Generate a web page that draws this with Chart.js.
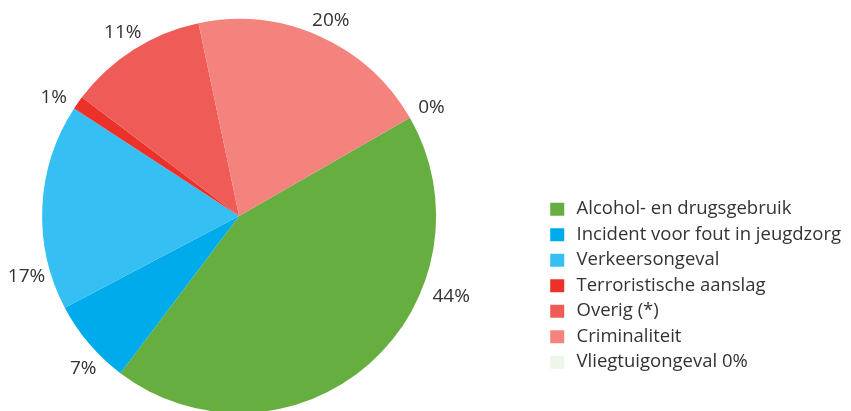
<!DOCTYPE html>
<html>
<head>
<meta charset="utf-8">
<script src="https://cdn.jsdelivr.net/npm/chart.js@4/dist/chart.umd.min.js"></script>
<style>
  html, body { margin: 0; padding: 0; background: #fff; overflow: hidden; }
  /* canvas is a bit wider than the page and shifted left, so the pie sits where it should */
  #wrap { position: absolute; left: -65px; top: 0; width: 916px; height: 411px; }
</style>
</head>
<body>
<div id="wrap"><canvas id="pie"></canvas></div>
<script>
// Oorzaken (aandeel in %)
const categories = [
  'Alcohol- en drugsgebruik',
  'Incident voor fout in jeugdzorg',
  'Verkeersongeval',
  'Terroristische aanslag',
  'Overig (*)',
  'Criminaliteit',
  'Vliegtuigongeval 0%'
];
const shares = [43.6, 7.0, 16.9, 1.1, 11.4, 20.0, 0];
const sliceColors = ['#66ae40', '#00abeb', '#36bff2', '#ec302a', '#ef5b56', '#f4837e', '#eef6ea'];

// label placement tweaks (degrees along the arc, px outside the rim)
const labelAngleShift = [-27.7, -4, -18.5, -2.5, 0, 1, 0.4];
const labelDistance = [30, 21, 24, 23, 20, 19, 24];

const textColor = '#333333';
const fontFamily = '"Open Sans", "Noto Sans", sans-serif';

const outsideLabels = {
  id: 'outsideLabels',
  afterDatasetsDraw(chart) {
    const ctx = chart.ctx;
    const meta = chart.getDatasetMeta(0);
    ctx.save();
    ctx.fillStyle = textColor;
    ctx.font = '19px ' + fontFamily;
    ctx.textAlign = 'center';
    ctx.textBaseline = 'middle';
    meta.data.forEach((arc, i) => {
      const p = arc.getProps(['x', 'y', 'startAngle', 'endAngle', 'outerRadius'], true);
      const mid = (p.startAngle + p.endAngle) / 2 + labelAngleShift[i] * Math.PI / 180;
      const r = p.outerRadius + labelDistance[i];
      ctx.fillText(Math.round(shares[i]) + '%', p.x + Math.cos(mid) * r, p.y + Math.sin(mid) * r);
    });
    ctx.restore();
  }
};

new Chart(document.getElementById('pie'), {
  type: 'pie',
  data: {
    labels: categories,
    datasets: [{
      data: shares,
      backgroundColor: sliceColors,
      borderWidth: 0,
      radius: 197,
      clip: false
    }]
  },
  options: {
    responsive: true,
    maintainAspectRatio: false,
    animation: false,
    rotation: 60.1,
    layout: { padding: { left: 0, right: 0, top: 21, bottom: 0 } },
    plugins: {
      tooltip: { enabled: false },
      legend: {
        position: 'right',
        align: 'start',
        // empty title only pushes the items down
        title: { display: true, text: '', padding: { top: 151.5, bottom: 0 }, font: { size: 17 } },
        labels: {
          boxWidth: 14,
          boxHeight: 13,
          padding: 7,
          color: textColor,
          font: { family: fontFamily, size: 18.5 },
          generateLabels(chart) {
            const items = Chart.overrides.pie.plugins.legend.labels.generateLabels(chart);
            items.forEach(it => { it.text = '\u2009' + it.text; });
            return items;
          }
        }
      }
    }
  },
  plugins: [outsideLabels]
});
</script>
</body>
</html>
